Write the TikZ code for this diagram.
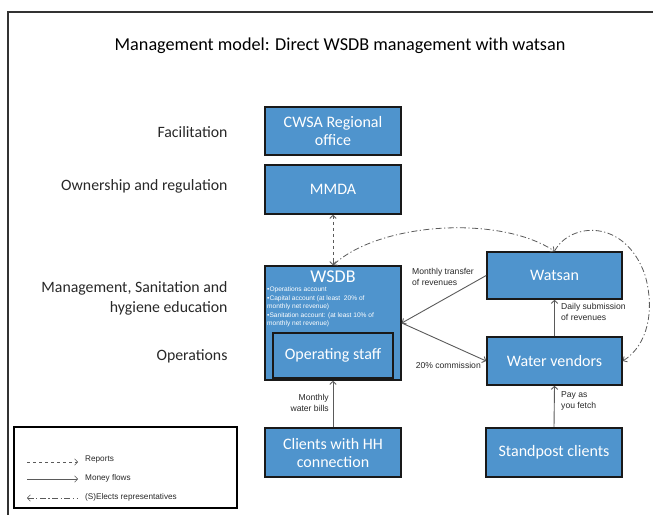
\documentclass[tikz,border=0pt]{standalone}
\usepackage{fontspec}
\setmainfont{Carlito}
\newfontfamily\smallsans{Liberation Sans}
\usetikzlibrary{arrows.meta}

\definecolor{boxblue}{RGB}{79,148,205}
\definecolor{linegray}{RGB}{90,90,90}
\definecolor{labelgray}{RGB}{40,40,40}

\tikzset{
  unitbox/.style={draw=black!90, line width=1.6pt, fill=boxblue, text=white,
    align=center, inner sep=0pt, font=\fontsize{16}{18}\selectfont},
  layerlabel/.style={anchor=east, align=right, text=labelgray,
    font=\fontsize{15.8}{20}\selectfont},
  flowlabel/.style={text=labelgray, inner sep=0pt,
    font=\smallsans\fontsize{8.6}{11.5}\selectfont},
  legendlabel/.style={text=labelgray, inner sep=0pt, anchor=west,
    font=\smallsans\fontsize{8.2}{9}\selectfont},
  tip/.style={-{Straight Barb[length=3pt,width=6.5pt]}},
  bothtips/.style={{Straight Barb[length=3pt,width=6.5pt]}-{Straight Barb[length=3pt,width=6.5pt]}},
  moneyflow/.style={tip, draw=linegray, line width=0.9pt},
  reportflow/.style={draw=linegray, line width=0.9pt, dashed, bothtips},
  electflow/.style={draw=linegray, line width=0.8pt,
    dash pattern=on 6pt off 2.5pt on 1.2pt off 2.5pt},
}

\begin{document}
\begin{tikzpicture}[x=1pt,y=-1pt]
\useasboundingbox (0,0) rectangle (653,515);

% outer frame (open to the right and bottom)
\draw[line width=1.3pt, draw=black!80] (653,12) -- (8,12) -- (8,515);

% title
\node[font=\fontsize{18.2}{20}\selectfont] (title) at (340,46)
  {Management model: Direct WSDB management with watsan};

% layer labels
\node[layerlabel] (lfac) at (231,132) {Facilitation};
\node[layerlabel] (lown) at (231,186) {Ownership and regulation};
\node[layerlabel] (lman) at (231,298) {Management, Sanitation and\\hygiene education};
\node[layerlabel] (lops) at (231,356) {Operations};

% boxes
\node[unitbox, minimum width=136pt, minimum height=48pt] (cwsa) at (333,131)
  {CWSA Regional\\office};
\node[unitbox, minimum width=136pt, minimum height=49pt] (mmda) at (333,189.5) {MMDA};
\node[unitbox, minimum width=136pt, minimum height=114pt] (wsdb) at (333,323) {};
\node[text=white, inner sep=0pt, font=\fontsize{18}{20}\selectfont] (wsdbtitle) at (333,276.5) {WSDB};
\node[anchor=north west, text=white, align=left, inner sep=0pt,
      font=\smallsans\fontsize{6.6}{8.4}\selectfont] (accounts) at (267,287)
  {\textbullet Operations account\\
   \textbullet Capital account (at least\ \ 20\% of\\
   monthly net revenue)\\
   \textbullet Sanitation account: (at least 10\% of\\
   monthly net revenue)};
\node[unitbox, minimum width=120pt, minimum height=45pt] (staff) at (333,355.5)
  {Operating staff};
\node[unitbox, minimum width=135pt, minimum height=47pt] (watsan) at (554.5,275.5) {Watsan};
\node[unitbox, minimum width=135pt, minimum height=48pt] (vendors) at (554.5,361)
  {Water vendors};
\node[unitbox, minimum width=136pt, minimum height=49pt] (hh) at (333,452.5)
  {Clients with HH\\connection};
\node[unitbox, minimum width=136pt, minimum height=49pt] (stand) at (554,452.5)
  {Standpost clients};

% reporting line
\draw[reportflow] (mmda.south) -- (wsdb.north);

% election lines
\draw[electflow, bothtips]
  (wsdb.north) .. controls (380,222) and (500,215) .. (watsan.north);
\draw[electflow, tip]
  (watsan.north) .. controls (570,222) and (625,218) .. (645,275)
  .. controls (655,310) and (648,345) .. (vendors.east);

% money flows
\draw[moneyflow] (watsan.west) -- (wsdb.east);
\draw[moneyflow] (wsdb.east) -- (vendors.west);
\draw[moneyflow] (vendors.north) -- (watsan.south);
\draw[moneyflow] (stand.north) -- (vendors.south);
\draw[moneyflow] (hh.north) -- (wsdb.south);

% flow labels
\node[flowlabel, anchor=west, align=left] (ftransfer) at (412,277)
  {Monthly transfer\\of revenues};
\node[flowlabel, anchor=west, align=left] (fdaily) at (561,312)
  {Daily submission\\of revenues};
\node[flowlabel, anchor=east] (fcomm) at (481,365) {20\% commission};
\node[flowlabel, anchor=east, align=right] (fbills) at (329,403)
  {Monthly\\water bills};
\node[flowlabel, anchor=west, align=left] (ffetch) at (561,401)
  {Pay as\\you fetch};

% legend
\node[draw=black, line width=1.2pt, minimum width=223pt, minimum height=81pt,
      inner sep=0pt] (legend) at (125.5,467.5) {};
\coordinate (ra) at (27,462);  \coordinate (rb) at (78,462);
\coordinate (ma) at (27,479);  \coordinate (mb) at (78,479);
\coordinate (ea) at (27,498);  \coordinate (eb) at (78,498);
\draw[draw=linegray, line width=0.6pt, dashed, tip] (ra) -- (rb);
\draw[draw=linegray, line width=0.6pt, tip] (ma) -- (mb);
\draw[electflow, line width=0.6pt, {Straight Barb[length=3pt,width=6.5pt]}-] (ea) -- (eb);
\node[legendlabel] (lrep) at (85,460) {Reports};
\node[legendlabel] (lmon) at (85,478) {Money flows};
\node[legendlabel] (lele) at (85,497) {(S)Elects representatives};
\end{tikzpicture}
\end{document}
